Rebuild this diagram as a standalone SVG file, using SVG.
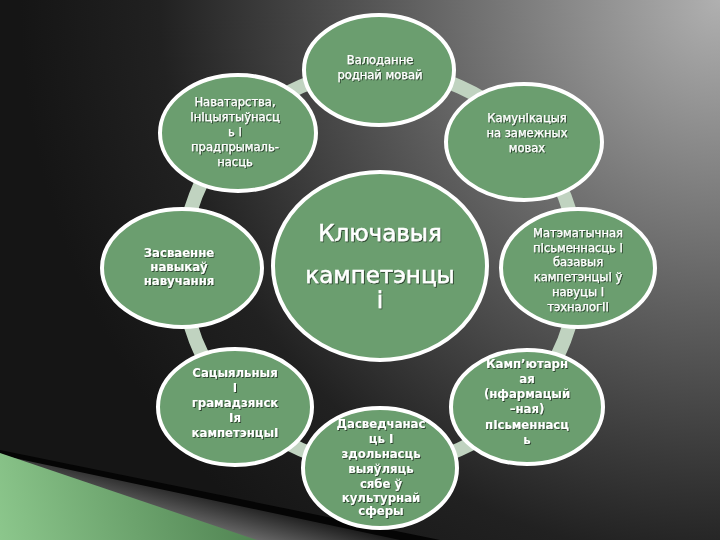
<svg xmlns="http://www.w3.org/2000/svg" width="720" height="540" viewBox="0 0 720 540">
  <defs>
    <radialGradient id="bg" gradientUnits="userSpaceOnUse" cx="720" cy="0" r="700">
      <stop offset="0" stop-color="#b0b0b0"/>
      <stop offset="0.45" stop-color="#5e5e5e"/>
      <stop offset="0.8" stop-color="#212121"/>
      <stop offset="1" stop-color="#151515"/>
    </radialGradient>
    <linearGradient id="grn" gradientUnits="userSpaceOnUse" x1="0" y1="540" x2="260" y2="470">
      <stop offset="0" stop-color="#8cc78c"/>
      <stop offset="1" stop-color="#4c7f4e"/>
    </linearGradient>
    <linearGradient id="gry" gradientUnits="userSpaceOnUse" x1="200" y1="490" x2="190" y2="530">
      <stop offset="0" stop-color="#1a1a1a"/>
      <stop offset="1" stop-color="#777777"/>
    </linearGradient>
    <filter id="sh" x="-10%" y="-20%" width="120%" height="150%">
      <feDropShadow dx="1" dy="1" stdDeviation="0.6" flood-color="#000000" flood-opacity="0.55"/>
    </filter>
    <style>
      .node ellipse { fill: #6b9e6f; stroke: #ffffff; stroke-width: 4; }
      .conn path { fill: none; stroke: #c0d3c0; stroke-width: 14; }
      .t { font-family: "DejaVu Sans Condensed", "DejaVu Sans", "Liberation Sans", sans-serif; font-size: 12.8px; fill: #ffffff; text-anchor: middle; stroke: #ffffff; stroke-width: 0.25; filter: url(#sh); }
      .b { font-weight: bold; font-size: 13px; stroke-width: 0; }
      .c { font-family: "DejaVu Sans", "Liberation Sans", sans-serif; font-size: 23px; stroke-width: 0.5; }
    </style>
  </defs>

  <rect x="0" y="0" width="720" height="540" fill="url(#bg)"/>

  <g id="decor">
    <polygon points="0,450 440,540 0,540" fill="#050505"/>
    <polygon points="0,455 400,540 0,540" fill="url(#gry)"/>
    <polygon points="0,453 257,540 0,540" fill="url(#grn)"/>
  </g>

  <g id="connectors" class="conn">
    <path d="M380,70 A198,198 0 0,1 527.1,135.5"/>
    <path d="M527.1,135.5 A198,198 0 0,1 578,268"/>
    <path d="M578,268 A198,198 0 0,1 524.8,403"/>
    <path d="M524.8,403 A198,198 0 0,1 380,466"/>
    <path d="M380,466 A198,198 0 0,1 235.2,403"/>
    <path d="M235.2,403 A198,198 0 0,1 182,268"/>
    <path d="M182,268 A198,198 0 0,1 235.2,133"/>
    <path d="M235.2,133 A198,198 0 0,1 380,70"/>
  </g>

  <g id="node-center" class="node">
    <ellipse cx="380" cy="266" rx="107" ry="94"/>
    <text class="t c" x="380" y="241">Ключавыя</text>
    <text class="t c" x="380" y="283">кампетэнцы</text>
    <text class="t c" x="380" y="308">і</text>
  </g>

  <g id="node-top" class="node">
    <ellipse cx="379" cy="70" rx="75" ry="55"/>
    <text class="t" x="380" y="63.5">Валоданне</text>
    <text class="t" x="380" y="78.5">роднай мовай</text>
  </g>

  <g id="node-upper-right" class="node">
    <ellipse cx="524" cy="142" rx="78" ry="58"/>
    <text class="t" x="527" y="121.5">КамунІкацыя</text>
    <text class="t" x="527" y="136.5">на замежных</text>
    <text class="t" x="527" y="151.5">мовах</text>
  </g>

  <g id="node-right" class="node">
    <ellipse cx="578" cy="268" rx="77" ry="59"/>
    <text class="t" x="578" y="236.5">Матэматычная</text>
    <text class="t" x="578" y="251.5">пІсьменнасць І</text>
    <text class="t" x="578" y="266">базавыя</text>
    <text class="t" x="578" y="280.5">кампетэнцыІ ў</text>
    <text class="t" x="578" y="295.5">навуцы І</text>
    <text class="t" x="578" y="310.5">тэхналогІІ</text>
  </g>

  <g id="node-lower-right" class="node">
    <ellipse cx="527" cy="407" rx="76" ry="57"/>
    <text class="t b" x="527" y="367.5">Камп’ютарн</text>
    <text class="t b" x="527" y="382.5">ая</text>
    <text class="t b" x="527" y="397.5">(нфармацый</text>
    <text class="t b" x="527" y="412.5">–ная)</text>
    <text class="t b" x="527" y="429">пІсьменнасц</text>
    <text class="t b" x="527" y="444">ь</text>
  </g>

  <g id="node-bottom" class="node">
    <ellipse cx="380" cy="468" rx="77" ry="60"/>
    <text class="t b" x="381" y="427.5">Дасведчанас</text>
    <text class="t b" x="381" y="442.5">ць І</text>
    <text class="t b" x="381" y="457.5">здольнасць</text>
    <text class="t b" x="381" y="472.5">выяўляць</text>
    <text class="t b" x="381" y="487.5">сябе ў</text>
    <text class="t b" x="381" y="501.5">культурнай</text>
    <text class="t b" x="381" y="515">сферы</text>
  </g>

  <g id="node-lower-left" class="node">
    <ellipse cx="235" cy="407" rx="77" ry="58"/>
    <text class="t b" x="235" y="376.5">Сацыяльныя</text>
    <text class="t b" x="235" y="391.5">І</text>
    <text class="t b" x="235" y="407">грамадзянск</text>
    <text class="t b" x="235" y="422">Ія</text>
    <text class="t b" x="235" y="436.5">кампетэнцыІ</text>
  </g>

  <g id="node-left" class="node">
    <ellipse cx="182" cy="268" rx="80" ry="59"/>
    <text class="t b" x="179" y="256.5">Засваенне</text>
    <text class="t b" x="179" y="270.5">навыкаў</text>
    <text class="t b" x="179" y="284.5">навучання</text>
  </g>

  <g id="node-upper-left" class="node">
    <ellipse cx="238" cy="133" rx="78" ry="58"/>
    <text class="t" x="235" y="105.5">Наватарства,</text>
    <text class="t" x="235" y="120.5">ІнІцыятыўнасц</text>
    <text class="t" x="235" y="135.5">ь І</text>
    <text class="t" x="235" y="150.5">прадпрымаль-</text>
    <text class="t" x="235" y="165.5">насць</text>
  </g>
</svg>
